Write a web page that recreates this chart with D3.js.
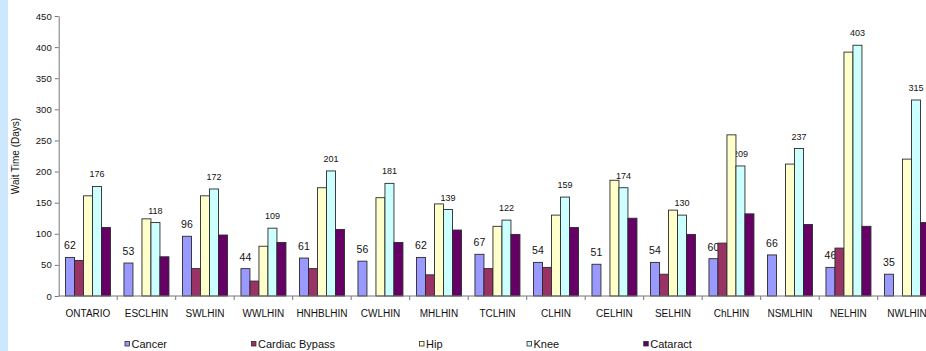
<!DOCTYPE html>
<html>
<head>
<meta charset="utf-8">
<script src="https://cdn.jsdelivr.net/npm/d3@7"></script>
<style>
  html, body { margin: 0; padding: 0; background: #ffffff; }
  svg { display: block; font-family: "Liberation Sans", Arial, sans-serif; }
</style>
</head>
<body>
<svg id="chart" width="926" height="351"></svg>
<script>
// Wait times (days) by LHIN and procedure
const categories = ["ONTARIO", "ESCLHIN", "SWLHIN", "WWLHIN", "HNHBLHIN", "CWLHIN", "MHLHIN",
  "TCLHIN", "CLHIN", "CELHIN", "SELHIN", "ChLHIN", "NSMLHIN", "NELHIN", "NWLHIN"];
const seriesNames = ["Cancer", "Cardiac Bypass", "Hip", "Knee", "Cataract"];
const cancer   = [62, 53, 96, 44, 61, 56, 62, 67, 54, 51, 54, 60, 66, 46, 35];
const cardiac  = [57, null, 44, 24, 44, null, 34, 44, 46, null, 35, 85, null, 77, null];
const hip      = [161, 124, 161, 80, 174, 158, 148, 112, 130, 186, 138, 259, 212, 392, 220];
const knee     = [176, 118, 172, 109, 201, 181, 139, 122, 159, 174, 130, 209, 237, 403, 315];
const cataract = [110, 63, 98, 86, 107, 86, 106, 99, 110, 125, 99, 132, 115, 112, 118];
const yTicks = [0, 50, 100, 150, 200, 250, 300, 350, 400, 450];

const seriesValues = [cancer, cardiac, hip, knee, cataract];
const colors = ["#9999ff", "#993366", "#ffffcc", "#ccffff", "#660066"];

const svg = d3.select("#chart");
const W = 926, H = 351;

// light blue frame strip along the left edge
svg.append("rect").attr("x", 0).attr("y", 0).attr("width", 8).attr("height", H)
  .attr("fill", "#cde8fc");

const plotLeft = 58.7, step = 58.5, plotTop = 16, plotBottom = 296;

const x0 = d3.scaleBand().domain(categories)
  .range([plotLeft, plotLeft + step * categories.length]).paddingInner(0).paddingOuter(0);
const x1 = d3.scaleBand().domain(seriesNames)
  .range([0, x0.bandwidth()]).paddingInner(0).paddingOuter(0.75);
const y = d3.scaleLinear().domain([0, 450]).range([plotBottom, plotTop]);

// value labels: cancer and knee
const labelSpecs = [
  { si: 0, size: 10.5, off: 8 },
  { si: 3, size: 9, off: 9 }
];
labelSpecs.forEach(spec => {
  const vals = seriesValues[spec.si];
  svg.append("g").selectAll("text").data(categories.map((c, i) => ({ c, v: vals[i] })))
    .join("text")
    .attr("x", d => x0(d.c) + x1(seriesNames[spec.si]) + x1.bandwidth() / 2)
    .attr("y", d => y(d.v) - spec.off)
    .attr("text-anchor", "middle")
    .attr("font-size", spec.size)
    .attr("fill", "#111")
    .text(d => d.v);
});

// bars
const groups = svg.append("g").selectAll("g").data(categories).join("g")
  .attr("transform", d => `translate(${x0(d)},0)`);
groups.selectAll("rect")
  .data((c, i) => seriesNames.map((s, si) => ({ s, si, v: seriesValues[si][i] })).filter(d => d.v != null))
  .join("rect")
  .attr("x", d => x1(d.s))
  .attr("y", d => y(d.v))
  .attr("width", x1.bandwidth())
  .attr("height", d => y(0) - y(d.v))
  .attr("fill", d => colors[d.si])
  .attr("stroke", "#2a2a2a")
  .attr("stroke-width", 0.9);

// y axis
const yAxis = svg.append("g").attr("transform", `translate(${plotLeft},0)`)
  .call(d3.axisLeft(y).tickValues(yTicks).tickSize(4).tickSizeOuter(0).tickPadding(3));
yAxis.select(".domain").attr("stroke", "#777");
yAxis.selectAll(".tick line").attr("stroke", "#777");
yAxis.selectAll(".tick text").attr("font-size", 9.5).attr("fill", "#111")
  .attr("font-family", "Liberation Sans, Arial, sans-serif");

// x axis with ticks between categories
const xAxisG = svg.append("g");
xAxisG.append("line").attr("x1", plotLeft).attr("x2", W).attr("y1", plotBottom).attr("y2", plotBottom)
  .attr("stroke", "#777");
xAxisG.selectAll("line.sep").data(categories).join("line").attr("class", "sep")
  .attr("x1", d => x0(d) + x0.bandwidth()).attr("x2", d => x0(d) + x0.bandwidth())
  .attr("y1", plotBottom).attr("y2", plotBottom + 4).attr("stroke", "#777");
xAxisG.selectAll("text").data(categories).join("text")
  .attr("x", d => x0(d) + x0.bandwidth() / 2)
  .attr("y", 317)
  .attr("text-anchor", "middle")
  .attr("font-size", 10)
  .attr("fill", "#111")
  .text(d => d);

// axis title
svg.append("text")
  .attr("transform", `translate(19,${(plotTop + plotBottom) / 2}) rotate(-90)`)
  .attr("text-anchor", "middle")
  .attr("font-size", 10)
  .attr("fill", "#111")
  .text("Wait Time (Days)");

// legend
const legend = svg.append("g");
let lx = 125;
seriesNames.forEach((name, i) => {
  legend.append("rect").attr("x", lx).attr("y", 341.5).attr("width", 4.5).attr("height", 4.5)
    .attr("fill", colors[i]).attr("stroke", "#2a2a2a").attr("stroke-width", 0.8);
  const t = legend.append("text").attr("x", lx + 6.5).attr("y", 347.5)
    .attr("font-size", 11).attr("fill", "#111").text(name);
  lx += 6.5 + t.node().getComputedTextLength() + 84.5;
});
</script>
</body>
</html>
